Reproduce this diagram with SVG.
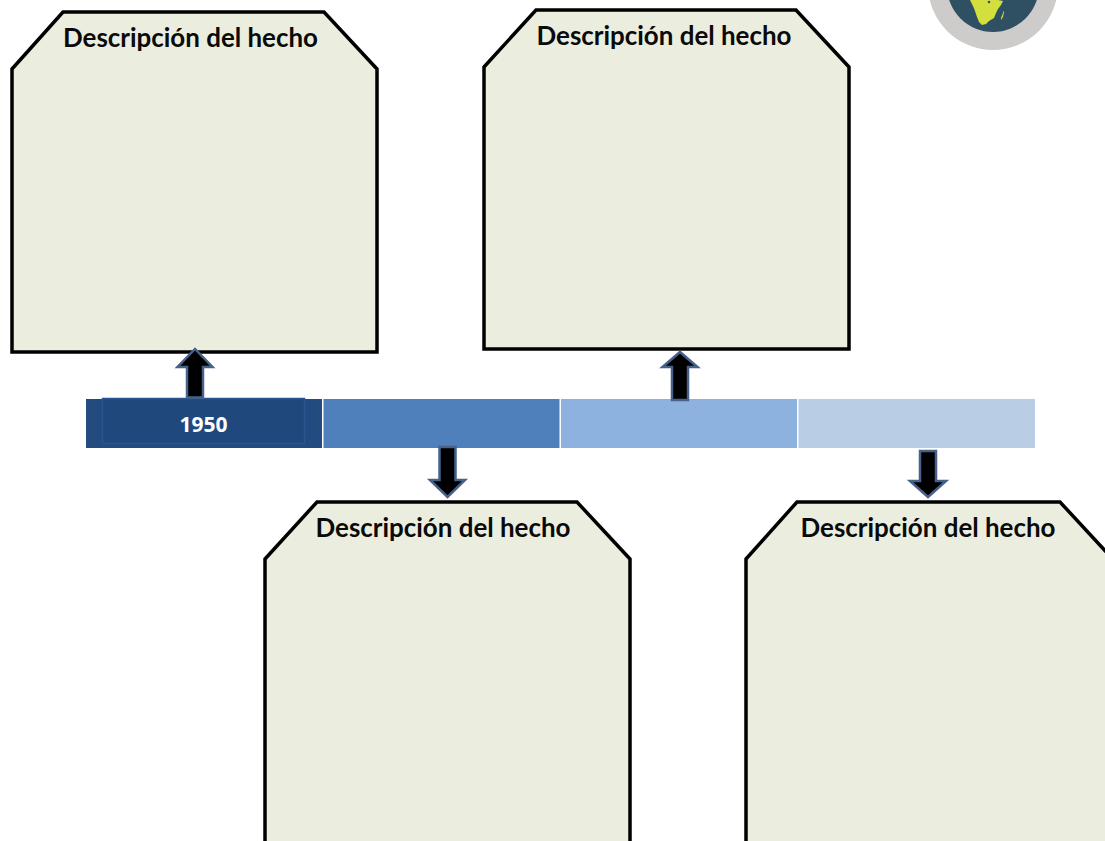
<svg xmlns="http://www.w3.org/2000/svg" width="1105" height="841" viewBox="0 0 1105 841">
<defs>
<style>
.box{fill:#ebeedf;stroke:#000;stroke-width:3.5;stroke-linejoin:miter}
.t{font-family:"Lato","Liberation Sans",sans-serif;font-weight:700;font-size:27.500px;fill:#0a0a0a;text-anchor:middle}
.arr{fill:#000;stroke:#46618a;stroke-width:2.500;stroke-linejoin:miter}
</style>
</defs>
<rect width="1105" height="841" fill="#fff"/>
<g id="globe">
<circle cx="993" cy="-15" r="65" fill="#cdcccb"/>
<circle cx="993" cy="-14" r="46" fill="#2f4f63"/>
<path d="M970 0L998 0L1003 1L1001 5L998 9L996 13L994 18L989 21L986 24L982 25L979 22L977 17L975 11L973 6Z" fill="#d3df3d"/>
<path d="M1001 18L1003 13L1003 11L1004 12L1003 17L1001 20Z" fill="#d3df3d"/>
<circle cx="989" cy="2" r="1.300" fill="#2f4f63"/>
</g>
<g id="timeline">
<rect x="86" y="399" width="236" height="49" fill="#234b80"/>
<rect x="323.500" y="399" width="236" height="49" fill="#4f80bb"/>
<rect x="561" y="399" width="236" height="49" fill="#8eb2e0"/>
<rect x="798.500" y="399" width="236.500" height="49" fill="#b9cde5"/>
<rect x="102.500" y="398.500" width="202" height="45" fill="#1f497d" stroke="#2a5590" stroke-width="1.500"/>
<text x="203.500" y="432" font-family="'Open Sans','Noto Sans',sans-serif" font-weight="700" font-size="21px" fill="#fff" text-anchor="middle">1950</text>
</g>
<g id="node1">
<path class="box" d="M63 12H324L377 69V352H12V69Z"/>
<text class="t" x="190.500" y="47" textLength="255" lengthAdjust="spacingAndGlyphs">Descripción del hecho</text>
</g>
<g id="node2">
<path class="box" d="M536 10H796L849 67V349H484V67Z"/>
<text class="t" x="664" y="45" textLength="255" lengthAdjust="spacingAndGlyphs">Descripción del hecho</text>
</g>
<g id="node3">
<path class="box" d="M317 502H577L630 559V845H265V559Z"/>
<text class="t" x="443" y="537" textLength="255" lengthAdjust="spacingAndGlyphs">Descripción del hecho</text>
</g>
<g id="node4">
<path class="box" d="M797 502H1060L1110 556V845H746V559Z"/>
<text class="t" x="928" y="537" textLength="255" lengthAdjust="spacingAndGlyphs">Descripción del hecho</text>
</g>
<g id="connectors">
<path class="arr" d="M187 397.500V367H177.500L195 349L212.500 367H203V397.500Z"/>
<path class="arr" d="M672 400V367H662.500L680 352L697.500 367H688V400Z"/>
<path class="arr" d="M439.500 447V480H430L447.500 497L465 480H455.500V447Z"/>
<path class="arr" d="M920 451V481H910L928 497L946 481H936V451Z"/>
</g>
</svg>
